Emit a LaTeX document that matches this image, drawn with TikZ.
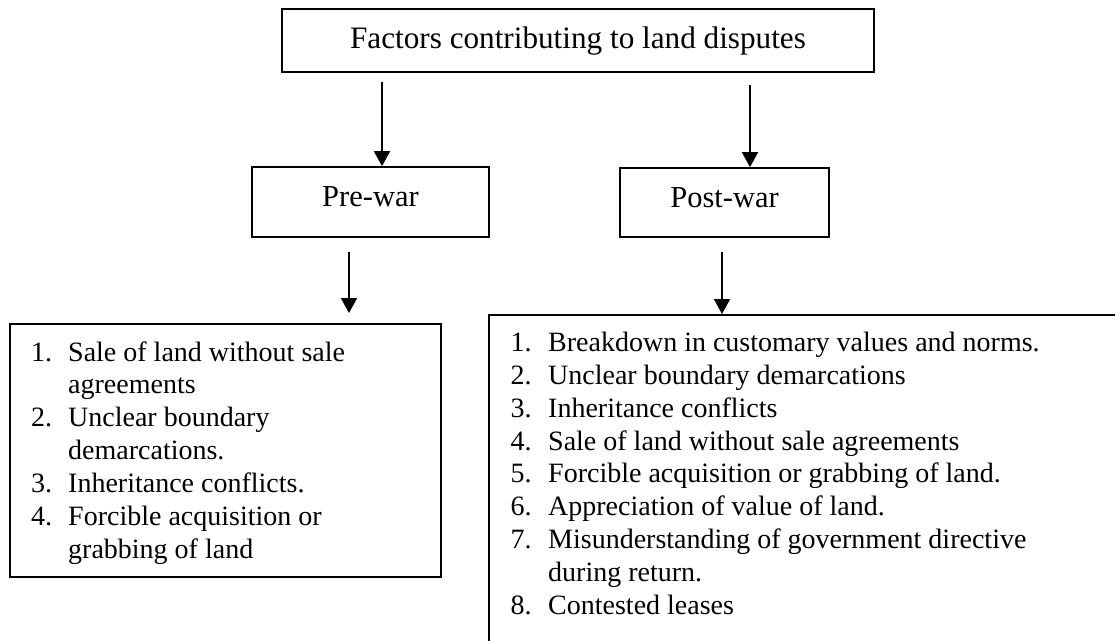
\documentclass[tikz,border=0pt]{standalone}
\usepackage{fontspec}
\setmainfont{Liberation Serif}
\usetikzlibrary{arrows.meta}
\newcommand\lstitemA[2]{\makebox[37pt][l]{#1}#2}
\newcommand\lstcontA[1]{\hspace*{37pt}#1}
\newcommand\lstitemB[2]{\makebox[37.5pt][l]{#1}#2}
\newcommand\lstcontB[1]{\hspace*{37.5pt}#1}
\begin{document}
\begin{tikzpicture}[x=1pt,y=-1pt,
  box/.style={draw=black, line width=1.7pt, inner sep=0pt},
  hdr/.style={box, font=\fontsize{30.5}{36}\selectfont},
  arr/.style={line width=1.7pt, -{Triangle[width=16pt,length=15pt]}},
  listtext/.style={font=\fontsize{28}{32.85}\selectfont, align=left, inner sep=0pt, anchor=base west}]
\useasboundingbox (0,0) rectangle (1115,640);
\clip (0,0) rectangle (1115,640);
\fill[white] (0,0) rectangle (1115,640);

% header boxes
\node[hdr, font=\fontsize{31.2}{36}\selectfont, minimum width=592pt, minimum height=63pt, text height=22pt, text depth=6pt] (title) at (578,40.5) {Factors contributing to land disputes};
\node[hdr, minimum width=237pt, minimum height=70pt, text height=19pt, text depth=9.6pt] (prewar) at (370.5,202) {Pre-war};
\node[hdr, minimum width=209pt, minimum height=69pt, text height=19pt, text depth=9.6pt] (postwar) at (724.5,202.5) {Post-war};

% list boxes
\node[box, minimum width=431pt, minimum height=253pt] (prelist) at (225.5,450.5) {};
\node[box, minimum width=700pt, minimum height=400pt, anchor=north west] (postlist) at (488,314) {};

% list texts (base anchor = baseline of the last line)
\node[listtext] (pretext) at (31,558.1) {%
\lstitemA{1.}{Sale of land without sale}\\
\lstcontA{agreements}\\
\lstitemA{2.}{Unclear boundary}\\
\lstcontA{demarcations.}\\
\lstitemA{3.}{Inheritance conflicts.}\\
\lstitemA{4.}{Forcible acquisition or}\\
\lstcontA{grabbing of land}};

\node[listtext] (posttext) at (510.5,614.3) {%
\lstitemB{1.}{Breakdown in customary values and norms.}\\
\lstitemB{2.}{Unclear boundary demarcations}\\
\lstitemB{3.}{Inheritance conflicts}\\
\lstitemB{4.}{Sale of land without sale agreements}\\
\lstitemB{5.}{Forcible acquisition or grabbing of land.}\\
\lstitemB{6.}{Appreciation of value of land.}\\
\lstitemB{7.}{Misunderstanding of government directive}\\
\lstcontB{during return.}\\
\lstitemB{8.}{Contested leases}};

% arrows
\coordinate (a1) at (382,82);
\coordinate (a2) at (750,85);
\coordinate (a3) at (349,252);
\coordinate (a3e) at (349,313);
\coordinate (a4) at (722,252);
\draw[arr] (a1) -- (a1 |- prewar.north);
\draw[arr] (a2) -- (a2 |- postwar.north);
\draw[arr] (a3) -- (a3e);
\draw[arr] (a4) -- (a4 |- postlist.north);
\end{tikzpicture}
\end{document}
